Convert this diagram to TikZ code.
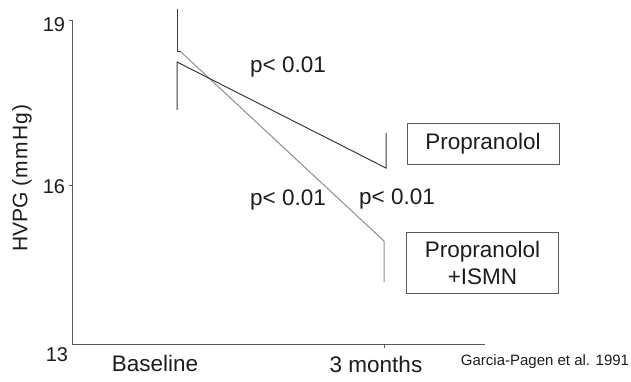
\documentclass[tikz,border=0pt]{standalone}
\usepackage{fontspec}
\setmainfont{Liberation Sans}
\definecolor{txt}{HTML}{1C1C1C}
\definecolor{darkln}{HTML}{3A3A3A}
\definecolor{grayln}{HTML}{8E8E8E}
\definecolor{axisln}{HTML}{5A5A5A}
\begin{document}
\begin{tikzpicture}[x=1pt,y=-1pt,
  axis/.style={draw=axisln,line width=0.9pt},
  darkline/.style={draw=darkln,line width=1pt},
  grayline/.style={draw=grayln,line width=1pt},
  lbl/.style={text=txt,inner sep=0pt,font=\fontsize{22.5}{26}\selectfont},
  num/.style={text=txt,inner sep=0pt,font=\fontsize{20}{24}\selectfont},
  legendbox/.style={draw=axisln,line width=0.9pt,text=txt,inner sep=0pt,align=center,
    font=\fontsize{22.5}{27}\selectfont,minimum width=152pt}
]
\useasboundingbox (0,0) rectangle (631,382);
% axes
\coordinate (ytop) at (72,20);
\coordinate (orig) at (72,344);
\coordinate (xend) at (485,344);
\draw[axis] (ytop) -- (orig) -- (xend);
\coordinate (t19a) at (69,20);  \coordinate (t19b) at (72,20);
\coordinate (t16a) at (69,185); \coordinate (t16b) at (72,185);
\coordinate (t3ma) at (384,344); \coordinate (t3mb) at (384,348);
\draw[axis] (t19a) -- (t19b);
\draw[axis] (t16a) -- (t16b);
\draw[axis] (t3ma) -- (t3mb);
% tick labels
\node[num] (n19) at (54,25) {19};
\node[num] (n16) at (54,187) {16};
\node[num] (n13) at (57,355) {13};
\node[lbl] (xb) at (155,363) {Baseline};
\node[lbl] (x3) at (376,364) {3 months};
\node[text=txt,inner sep=0pt,font=\fontsize{15}{18}\selectfont] (ref) at (545,362) {Garcia-Pagen et al. 1991};
\node[text=txt,inner sep=0pt,rotate=90,font=\fontsize{21}{24}\selectfont] (ylab) at (22,178)
  {HVPG {\addfontfeature{LetterSpace=6}(mmHg)}};
% data
\coordinate (b1top) at (177,9);
\coordinate (b1m) at (177,52);
\coordinate (b1h) at (181,52);
\coordinate (b2m) at (177,62);
\coordinate (b2bot) at (177,110);
\coordinate (p3m) at (386,168);
\coordinate (p3top) at (386,133);
\coordinate (i3m) at (384,241);
\coordinate (i3bot) at (384,282);
\draw[darkline] (b1top) -- (b1m) -- (b1h);
\draw[grayline] (b1h) -- (i3m) -- (i3bot);
\draw[darkline] (b2bot) -- (b2m) -- (p3m) -- (p3top);
% p values
\node[lbl] (pa) at (288,67) {p< 0.01};
\node[lbl] (pb) at (288,200) {p< 0.01};
\node[lbl] (pc) at (397,199) {p< 0.01};
% legend
\node[legendbox,minimum height=41pt] (lp) at (483,143.5) {Propranolol};
\node[legendbox,minimum height=61pt] (li) at (482.5,262.5) {Propranolol\\+ISMN};
\end{tikzpicture}
\end{document}
